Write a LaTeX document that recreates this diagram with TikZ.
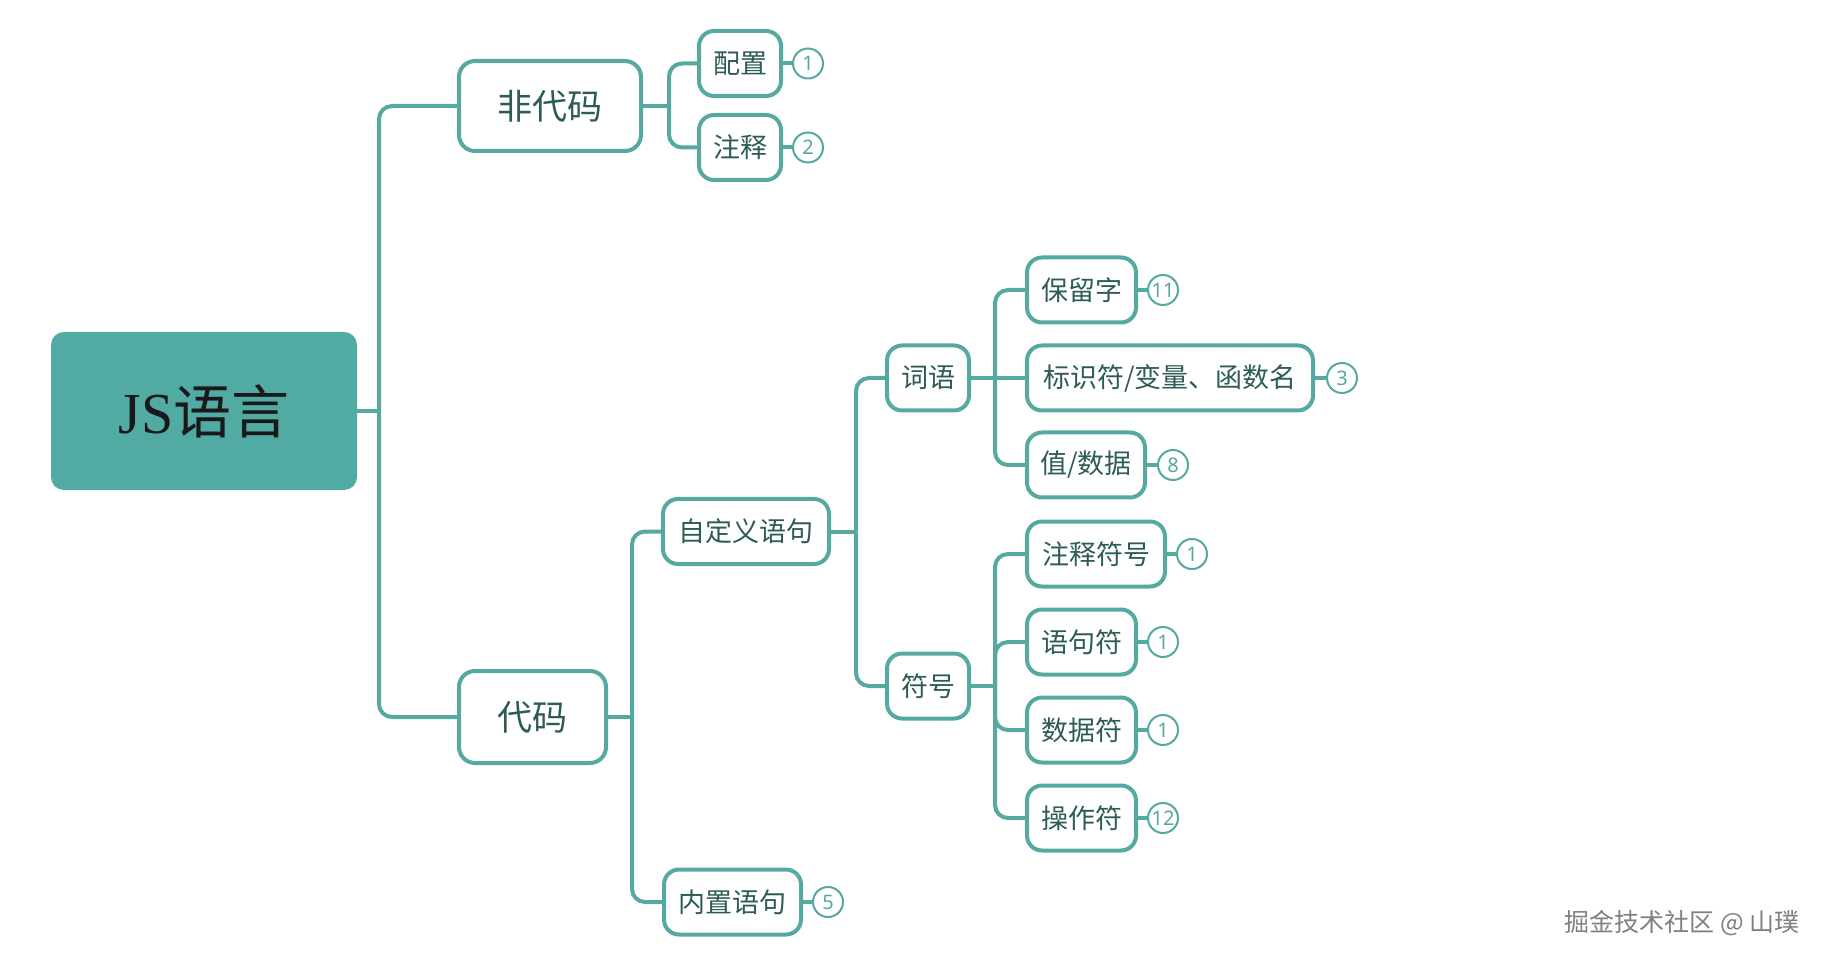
\documentclass[tikz,border=0pt]{standalone}
\usepackage{fontspec}
\setmainfont{Noto Sans CJK SC}
\newfontfamily\jsfont{Liberation Serif}
\newfontfamily\numfont{Noto Sans}
\definecolor{mteal}{HTML}{55A9A1}
\definecolor{rootfill}{HTML}{52ABA3}
\definecolor{txt}{HTML}{2D5B56}
\begin{document}
\begin{tikzpicture}[x=0.5pt,y=-0.5pt,
  rootbox/.style={fill=rootfill, draw=rootfill, line width=1pt, rounded corners=6pt, inner sep=0pt,
    text=black!90, font=\fontsize{29}{34}\selectfont},
  bigbox/.style={draw=mteal, fill=white, line width=2pt, rounded corners=8pt, inner sep=0pt,
    minimum height=45pt, text=txt, font=\fontsize{17.5}{21}\selectfont},
  box/.style={draw=mteal, fill=white, line width=2pt, rounded corners=7.5pt, inner sep=0pt,
    minimum height=32.5pt, text=txt, font=\fontsize{13.5}{16}\selectfont},
  numc/.style={circle, draw=mteal, line width=1pt, fill=white, minimum size=15pt, inner sep=0pt,
    text=mteal, font=\numfont\fontsize{10}{10}\selectfont},
  conn/.style={draw=mteal, line width=2pt},
  elbow/.style={draw=mteal, line width=2pt, rounded corners=6.5pt},
  tick/.style={draw=mteal, line width=2pt}]
\useasboundingbox (0,0) rectangle (1826,962);
\fill[white] (0,0) rectangle (1826,962);

% nodes
\node[rootbox, minimum width=152pt, minimum height=78pt] (root) at (204,411) {{\jsfont JS}语言};
\node[bigbox, minimum width=91pt] (fdm) at (550,106) {非代码};
\node[bigbox, minimum width=73.5pt, minimum height=46pt] (dm) at (532.5,717) {代码};
\node[box, minimum width=41pt] (pz) at (740,63.5) {配置};
\node[box, minimum width=41pt] (zs) at (740,147.5) {注释};
\node[box, minimum width=83pt] (zdy) at (746,531.5) {自定义语句};
\node[box, minimum width=68.5pt] (nz) at (732.5,902) {内置语句};
\node[box, minimum width=41pt] (cy) at (928,378) {词语};
\node[box, minimum width=41pt] (fh) at (928,686) {符号};
\node[box, minimum width=54.5pt] (blz) at (1081.5,290) {保留字};
\node[box, minimum width=143pt] (bsf) at (1170,378) {标识符/变量、函数名};
\node[box, minimum width=59pt] (zsj) at (1086,465) {值/数据};
\node[box, minimum width=69pt] (zsfh) at (1096,554) {注释符号};
\node[box, minimum width=54.5pt] (yjf) at (1081.5,642) {语句符};
\node[box, minimum width=54.5pt] (sjf) at (1081.5,730) {数据符};
\node[box, minimum width=54.5pt] (czf) at (1081.5,818) {操作符};

% number circles
\node[numc] (n1) at ([xshift=12.5pt]pz.east) {1};
\node[numc] (n2) at ([xshift=12.5pt]zs.east) {2};
\node[numc] (n5) at ([xshift=12.5pt]nz.east) {5};
\node[numc] (n11) at ([xshift=12.5pt]blz.east) {11};
\node[numc] (n3) at ([xshift=13.5pt]bsf.east) {3};
\node[numc] (n8) at ([xshift=13pt]zsj.east) {8};
\node[numc] (n1a) at ([xshift=12.5pt]zsfh.east) {1};
\node[numc] (n1b) at ([xshift=12.5pt]yjf.east) {1};
\node[numc] (n1c) at ([xshift=12.5pt]sjf.east) {1};
\node[numc] (n12) at ([xshift=12.5pt]czf.east) {12};

\foreach \b/\c in {pz/n1, zs/n2, nz/n5, blz/n11, bsf/n3, zsj/n8, zsfh/n1a, yjf/n1b, sjf/n1c, czf/n12}
  \draw[tick] (\b.east) -- (\c.west);

% junctions
\coordinate (j1) at (379,411);
\coordinate (j2) at (669,106);
\coordinate (j3) at (632,717);
\coordinate (j4) at (856,531.5);
\coordinate (j5) at (995,378);
\coordinate (j6) at (995,686);

\draw[conn] (root.east) -- (j1);
\draw[elbow] (j1) |- (fdm.west);
\draw[elbow] (j1) |- (dm.west);

\draw[conn] (fdm.east) -- (j2);
\draw[elbow] (j2) |- (pz.west);
\draw[elbow] (j2) |- (zs.west);

\draw[conn] (dm.east) -- (j3);
\draw[elbow] (j3) |- (zdy.west);
\draw[elbow] (j3) |- (nz.west);

\draw[conn] (zdy.east) -- (j4);
\draw[elbow] (j4) |- (cy.west);
\draw[elbow] (j4) |- (fh.west);

\draw[conn] (cy.east) -- (j5);
\draw[elbow] (j5) |- (blz.west);
\draw[conn] (j5) -- (bsf.west);
\draw[elbow] (j5) |- (zsj.west);

\draw[conn] (fh.east) -- (j6);
\draw[elbow] (j6) |- (zsfh.west);
\draw[elbow] (j6) |- (yjf.west);
\draw[elbow] (j6) |- (sjf.west);
\draw[elbow] (j6) |- (czf.west);

% watermark
\node[text=black!50, font=\fontsize{12.5}{14}\selectfont] (wm) at (1682,923) {掘金技术社区 @ 山璞};
\end{tikzpicture}
\end{document}
